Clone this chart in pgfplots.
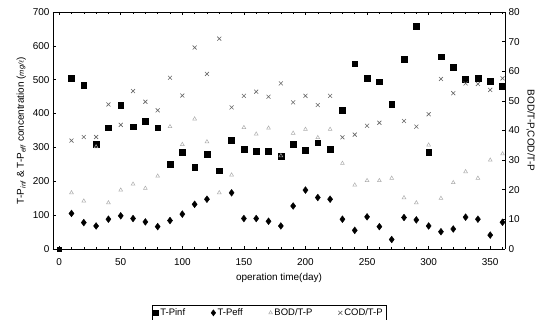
\documentclass[border=0pt]{standalone}
\usepackage{pgfplots}
\pgfplotsset{compat=1.18}
\usetikzlibrary{calc}
\usepackage{fontspec}
\setmainfont{Liberation Sans}
\begin{document}
\begin{tikzpicture}[font=\fontsize{10}{11}\selectfont]
\pgfplotsset{
  common/.style={
    scale only axis, width=452bp, height=237bp,
    xmin=-5, xmax=362,
    tick align=inside,
    /pgf/number format/assume math mode=true,
    tick style={black, line width=0.5pt},
    axis line style={line width=0.7pt},
    major tick length=3bp, minor tick length=2bp,
    ticklabel style={font=\fontsize{10}{11}\selectfont},
  }
}
\begin{axis}[common, name=ax,
  ymin=0, ymax=700, ytick={0,100,...,700},
  xtick={0,50,...,350}, minor xtick={10,20,...,360},
  xticklabel style={yshift=-6bp},
  xlabel={operation time(day)},
  xlabel style={yshift=-1bp},
  ylabel={T-P$_{\mathit{inf}}$ \& T-P$_{\mathit{eff}}$ concentration ({\itshape\fontsize{7.5}{8}\selectfont mg/$\ell$})},
  ylabel style={yshift=0bp},
  axis y line*=left, axis x line*=box,
  clip=false,
]
\addplot[only marks, mark=square*, mark size=2.9bp, black] coordinates {
(10,504)(20,484)(30,309)(40,358)(50,424)(60,361)(70,378)(80,358)(90,251)(100,286)(110,241)(120,281)(130,231)(140,322)(150,294)(160,290)(170,290)(180,275)(190,309)(200,292)(210,314)(220,295)(230,410)(240,547)(250,504)(260,494)(270,428)(280,561)(290,657)(300,287)(310,568)(320,537)(330,501)(340,504)(350,495)(360,480)};
\addplot[only marks, mark=square*, mark size=2bp, black, forget plot] coordinates {(0,0)};
\addplot[only marks, mark=diamond*, mark size=3.4bp, black] coordinates {
(10,105)(20,78)(30,68)(40,88)(50,98)(60,90)(70,80)(80,66)(90,84)(100,103)(110,132)(120,147)(140,166)(150,90)(160,90)(170,82)(180,68)(190,127)(200,174)(210,152)(220,147)(230,88)(240,55)(250,95)(260,66)(270,28)(280,93)(290,86)(300,68)(310,51)(320,59)(330,94)(340,88)(350,41)(360,79)};
\end{axis}
\begin{axis}[common,
  ymin=0, ymax=80, ytick={0,10,...,80},
  axis y line*=right, axis x line=none,
  ylabel={BOD/T-P,COD/T-P},
  ylabel style={rotate=180, yshift=0bp},
  legend style={at={(0.478,-0.236)}, anchor=north, legend columns=4,
    draw=black, line width=0.5pt, font=\fontsize{9.5}{10}\selectfont,
    inner sep=1.5bp, /tikz/every even column/.append style={column sep=24bp}},
  legend cell align=left,
]
\addlegendimage{only marks, mark=square*, mark size=2.5bp, black}
\addlegendentry{T-Pinf}
\addlegendimage{only marks, mark=diamond*, mark size=3bp, black}
\addlegendentry{T-Peff}
\addplot[only marks, mark=triangle, mark size=2.2bp, gray!65, mark options={line width=0.5pt}] coordinates {
(10,19.0)(20,16.2)(30,34.5)(40,15.6)(50,19.9)(60,21.9)(70,20.5)(80,24.6)(90,41.3)(100,35.3)(110,43.9)(120,36.2)(130,19.0)(140,25.0)(150,41.0)(160,38.8)(170,40.8)(180,31.5)(190,39.1)(200,40.4)(210,37.6)(220,40.4)(230,28.9)(240,21.6)(250,23.1)(260,23.1)(270,23.9)(280,17.3)(290,15.6)(300,35.1)(310,17.1)(320,22.4)(330,26.1)(340,23.9)(350,30.0)(360,32.1)};
\addlegendentry{BOD/T-P}
\addplot[only marks, mark=x, mark size=2.8bp, gray!80!black, mark options={line width=0.6pt}] coordinates {
(10,36.6)(20,37.8)(30,37.8)(40,48.8)(50,41.9)(60,53.3)(70,49.7)(80,46.8)(90,57.8)(100,51.8)(110,68.0)(120,59.1)(130,71.0)(140,47.8)(150,51.7)(160,53.1)(170,51.4)(180,55.9)(190,49.5)(200,51.7)(210,48.6)(220,51.7)(230,37.7)(240,38.6)(250,41.6)(260,42.6)(280,43.2)(290,41.3)(300,45.5)(310,57.4)(320,52.6)(330,55.9)(340,55.7)(350,53.7)(360,57.6)};
\addlegendentry{COD/T-P}
\end{axis}
\pgfresetboundingbox
\path[use as bounding box] ($(ax.south west)+(-53bp,-71bp)$) rectangle ($(ax.north east)+(42bp,12bp)$);
\end{tikzpicture}
\end{document}
